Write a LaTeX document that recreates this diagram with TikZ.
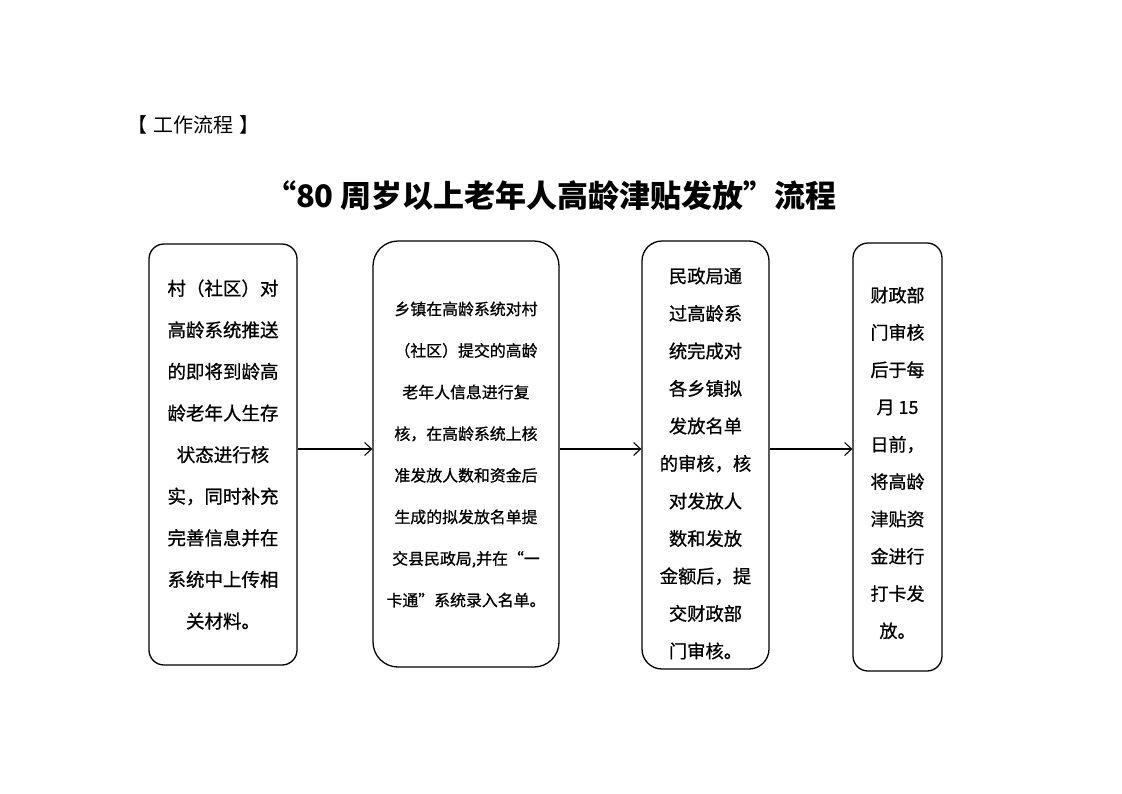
\documentclass[tikz,border=0pt]{standalone}
\usepackage{fontspec}
\setmainfont{Noto Sans CJK SC}
\newfontfamily\cjk{Noto Sans CJK SC}
\newfontfamily\cjkm[FakeBold=0.8]{Noto Sans CJK SC}
\usetikzlibrary{arrows.meta}
\tikzset{
  box/.style={draw, line width=1.3pt, inner sep=0pt},
  txt/.style={align=center, inner sep=0pt},
  arr/.style={line width=1.1pt, -{Straight Barb[length=7pt,width=13pt,line width=1.1pt]}}
}
\begin{document}
\begin{tikzpicture}[x=1pt,y=-1pt]
\useasboundingbox[fill=white] (0,0) rectangle (1122,793);
\node[txt, font=\cjk\fontsize{20}{24}\selectfont] (hd) at (193,125) {【\hspace{6pt}工作流程\hspace{6pt}】};
\node[txt, font=\cjk\bfseries\fontsize{31}{38}\selectfont] (title) at (551,196) {“80 周岁以上老年人高龄津贴发放”流程};

\node[box, minimum width=148, minimum height=421, rounded corners=15pt] (b1) at (223,454.5) {};
\node[box, minimum width=186, minimum height=426, rounded corners=25pt] (b2) at (466,454) {};
\node[box, minimum width=127, minimum height=428, rounded corners=20pt] (b3) at (705.5,455) {};
\node[box, minimum width=89, minimum height=428, rounded corners=15pt] (b4) at (897.5,457) {};

\node[txt, font=\cjkm\fontsize{18.5}{41.6}\selectfont] (t1) at (223,454.5) {村（社区）对\\高龄系统推送\\的即将到龄高\\龄老年人生存\\状态进行核\\实，同时补充\\完善信息并在\\系统中上传相\\关材料。};
\node[txt, font=\cjkm\fontsize{15.9}{41.6}\selectfont] (t2) at (466,454.5) {乡镇在高龄系统对村\\（社区）提交的高龄\\老年人信息进行复\\核，在高龄系统上核\\准发放人数和资金后\\生成的拟发放名单提\\交县民政局,并在“一\\卡通”系统录入名单。};
\node[txt, font=\cjkm\fontsize{18.3}{37.5}\selectfont] (t3) at (705.5,463.5) {民政局通\\过高龄系\\统完成对\\各乡镇拟\\发放名单\\的审核，核\\对发放人\\数和发放\\金额后，提\\交财政部\\门审核。};
\node[txt, font=\cjkm\fontsize{18}{37.3}\selectfont] (t4) at (897.5,463) {财政部\\门审核\\后于每\\月 15\\日前，\\将高龄\\津贴资\\金进行\\打卡发\\放。};

\coordinate (r) at (0,449);
\draw[arr] (b1.east |- r) -- (b2.west |- r);
\draw[arr] (b2.east |- r) -- (b3.west |- r);
\draw[arr] (b3.east |- r) -- (b4.west |- r);
\end{tikzpicture}
\end{document}
